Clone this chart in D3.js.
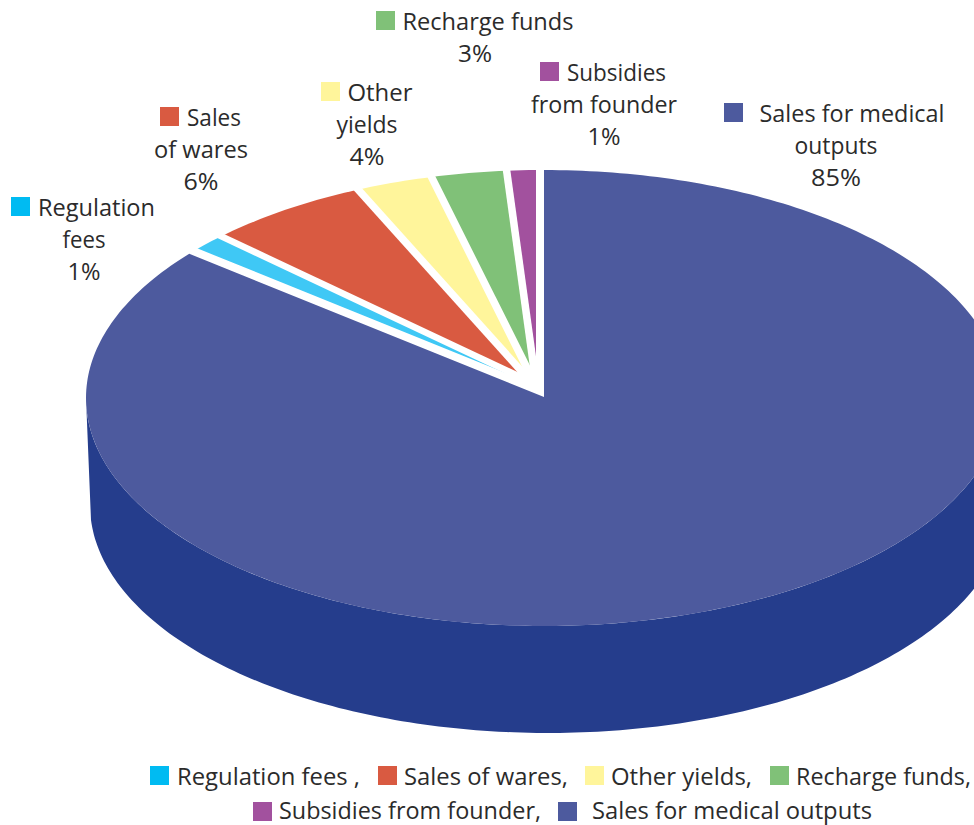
<!DOCTYPE html>
<html>
<head>
<meta charset="utf-8">
<script src="https://cdn.jsdelivr.net/npm/d3@7"></script>
<style>
  html, body { margin: 0; padding: 0; background: #fff; overflow: hidden; }
  text { font-family: "Open Sans", sans-serif; fill: #2b2b2b; }
</style>
</head>
<body>
<div id="chart"></div>
<script>
let w = 974;
let h = 825;

// clockwise from 12 o'clock
let categories = ['Sales for medical outputs', 'Regulation fees', 'Sales of wares', 'Other yields', 'Recharge funds', 'Subsidies from founder'];
// shares as drawn in the picture (the printed labels are rounded differently)
let drawnShares = [85.9, 1.65, 5.8, 2.7, 2.65, 1.3];
let printedPct = ['85%', '1%', '6%', '4%', '3%', '1%'];
let sliceColors = ['#4d5a9e', '#3fc8f5', '#d95a41', '#fff59b', '#80c178', '#a2519e'];
let swatchColors = ['#4d5a9e', '#00bbf2', '#d95a41', '#fff59b', '#80c178', '#a2519e'];
let wallColor = '#253d8c';

let top_ = { cx: 544, cy: 398, rx: 458, ry: 228 };
let bottom = { cx: 548, cy: 505, rx: 458, ry: 228 };
let gapX = 537;
let gapY = [384.8, 388.5, 388, 391]; // where each white gap meets the x = gapX line
let gapWidth = [6.5, 7.5, 7.5, 7.5];
let mainApex = [544, 397];

let svg = d3.select('#chart')
  .append('svg')
  .attr('width', w)
  .attr('height', h)
  .style('display', 'block');

let pie = d3.pie().sort(null).value((d) => d)(drawnShares);

function rim(e, a) {
  return [e.cx + e.rx * Math.sin(a), e.cy - e.ry * Math.cos(a)];
}
function rimArc(e, a0, a1) {
  let n = Math.max(2, Math.ceil(Math.abs(a1 - a0) * 60));
  return d3.range(n + 1).map((i) => rim(e, a0 + (a1 - a0) * i / n));
}
let line = d3.line();

// small slices
pie.slice(1).forEach((s) => {
  svg.append('path')
    .attr('d', line([[gapX, 388]].concat(rimArc(top_, s.startAngle, s.endAngle))) + 'Z')
    .attr('fill', sliceColors[s.index]);
});

// white gaps between the small slices
pie.slice(2).forEach((s, i) => {
  let c = [gapX, gapY[i]];
  let p = rim(top_, s.startAngle);
  let far = [c[0] + (p[0] - c[0]) * 1.1, c[1] + (p[1] - c[1]) * 1.1];
  svg.append('path')
    .attr('d', line([c, far]))
    .attr('stroke', '#fff')
    .attr('stroke-width', gapWidth[i])
    .attr('fill', 'none');
});

// big slice: white halo first, side wall over it, then the face
let main = pie[0];
let mainPath = line([mainApex].concat(rimArc(top_, main.startAngle, main.endAngle))) + 'Z';
svg.append('path')
  .attr('d', mainPath)
  .attr('fill', 'none')
  .attr('stroke', '#fff')
  .attr('stroke-linejoin', 'round')
  .attr('stroke-width', 16);

let wallFrom = Math.PI / 2 - 0.3, wallTo = 3 * Math.PI / 2;
let wallTop = rimArc(top_, wallFrom, wallTo);
let wallBottom = rimArc(bottom, wallTo - 0.066, wallFrom);
svg.append('path')
  .attr('d', line(wallTop.concat(wallBottom)) + 'Z')
  .attr('fill', wallColor);

svg.append('path')
  .attr('d', mainPath)
  .attr('fill', sliceColors[0]);

// labels around the pie
let labelFont = 23.5;
let labelLines = [
  ['Sales for medical', 'outputs', printedPct[0]],
  ['Regulation', 'fees', printedPct[1]],
  ['Sales', 'of wares', printedPct[2]],
  ['Other', 'yields', printedPct[3]],
  ['Recharge funds', printedPct[4]],
  ['Subsidies', 'from founder', printedPct[5]]
];
// [x of centred lines, first baseline, x of swatch, x of first line]
let labelPos = [
  [836, 122, 724, 852],
  [84, 216, 11, 96.5],
  [201, 126, 160, 214],
  [367, 101, 321, 380],
  [475, 30, 376, 488],
  [604, 81, 540, 616.5]
];
let labelWidths = [
  [185, 83, 50],
  [117, 43, 33],
  [54, 94, 35],
  [65, 61, 35],
  [171, 34],
  [99, 146, 33]
];
labelLines.forEach((lines, i) => {
  let p = labelPos[i];
  let g = svg.append('g');
  lines.forEach((t, j) => {
    g.append('text')
      .attr('x', (j === 0 ? p[3] : p[0]) - labelWidths[i][j] / 2)
      .attr('y', p[1] + j * 32)
      .attr('font-size', labelFont)
      .attr('textLength', labelWidths[i][j])
      .attr('lengthAdjust', 'spacingAndGlyphs')
      .text(t);
  });
  g.append('rect')
    .attr('x', p[2])
    .attr('y', p[1] - 19)
    .attr('width', 19)
    .attr('height', 19)
    .attr('fill', swatchColors[i]);
});

// legend, two rows at the bottom
let legendItems = [
  { i: 1, sx: 150, sy: 766, tx: 177, ty: 785, tail: ' ,', len: 183 },
  { i: 2, sx: 378, sy: 766, tx: 404, ty: 785, tail: ',', len: 164 },
  { i: 3, sx: 585, sy: 766, tx: 611, ty: 785, tail: ',', len: 141 },
  { i: 4, sx: 770, sy: 766, tx: 796, ty: 785, tail: ',', len: 175 },
  { i: 5, sx: 253, sy: 802, tx: 279, ty: 819, tail: ',', len: 262 },
  { i: 0, sx: 558, sy: 802, tx: 592, ty: 819, tail: '', len: 280 }
];
legendItems.forEach((d) => {
  svg.append('rect')
    .attr('x', d.sx)
    .attr('y', d.sy)
    .attr('width', 19)
    .attr('height', 19)
    .attr('fill', swatchColors[d.i]);
  svg.append('text')
    .attr('x', d.tx)
    .attr('y', d.ty)
    .attr('font-size', 23)
    .attr('textLength', d.len)
    .attr('lengthAdjust', 'spacingAndGlyphs')
    .text(categories[d.i] + d.tail);
});
</script>
</body>
</html>
